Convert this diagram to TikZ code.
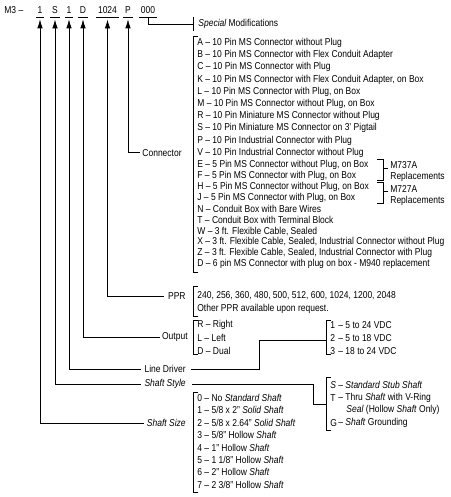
\documentclass[tikz,border=0pt]{standalone}
\usepackage{fontspec}
\setmainfont{Liberation Sans}[FakeStretch=0.85]
\usetikzlibrary{arrows.meta}
\newcommand\mybrk[3]{\draw (#1+5,#2) -- (#1,#2) -- (#1,#3) -- (#1+5,#3);}
\begin{document}
\begin{tikzpicture}[x=1pt,y=-1pt,line width=0.75pt,
  every node/.style={inner sep=0pt,font=\fontsize{10}{12}\selectfont},
  item/.style={anchor=west},
  lbl/.style={anchor=east},
  code/.style={anchor=base,inner xsep=1.5pt},
  arr/.style={-{Latex[length=9pt,width=5.5pt]}}]
\useasboundingbox[fill=white] (0,0) rectangle (450,497);
% top code
\node[anchor=base west] (m3) at (4,14) {M3 --};
\node[code] (c1) at (40,14) {1};
\node[code] (c2) at (55,14) {S};
\node[code] (c3) at (69,14) {1};
\node[code] (c4) at (83,14) {D};
\node[code] (c5) at (107.5,14) {1024};
\node[code] (c6) at (128,14) {P};
\node[code] (c7) at (148,14) {000};
\foreach \c in {c1,c2,c3,c4,c5,c6,c7}
  \draw ([yshift=-3pt]\c.south west) -- ([yshift=-3pt]\c.south east);
% special modifications
\coordinate (specbr) at (193,24);
\node[item] (spec) at (198,24) {\itshape Special\upshape\ Modifications};
\draw ([yshift=-3pt]c7.south) |- (specbr);
\draw (193,17) -- (193,31);
% connector list
\foreach \t [count=\i from 0] in {{A -- 10 Pin MS Connector without Plug},
  {B -- 10 Pin MS Connector with Flex Conduit Adapter},
  {C -- 10 Pin MS Connector with Plug},
  {K -- 10 Pin MS Connector with Flex Conduit Adapter, on Box},
  {L -- 10 Pin MS Connector with Plug, on Box},
  {M -- 10 Pin MS Connector without Plug, on Box},
  {R -- 10 Pin Miniature MS Connector without Plug},
  {S -- 10 Pin Miniature MS Connector on 3' Pigtail},
  {P -- 10 Pin Industrial Connector with Plug},
  {V -- 10 Pin Industrial Connector without Plug}}
  \node[item] (ca\i) at (197,43+\i*12.2) {\t};
\foreach \t [count=\i from 0] in {{E -- 5 Pin MS Connector without Plug, on Box},
  {F -- 5 Pin MS Connector with Plug, on Box},
  {H -- 5 Pin MS Connector without Plug, on Box},
  {J -- 5 Pin MS Connector with Plug, on Box},
  {N -- Conduit Box with Bare Wires},
  {T -- Conduit Box with Terminal Block},
  {W -- 3 ft. Flexible Cable, Sealed},
  {X -- 3 ft. Flexible Cable, Sealed, Industrial Connector without Plug},
  {Z -- 3 ft. Flexible Cable, Sealed, Industrial Connector with Plug},
  {D -- 6 pin MS Connector with plug on box - M940 replacement}}
  \node[item] (cb\i) at (197,164.5+\i*11.1) {\t};
\mybrk{193}{36}{272}
\node[lbl] (conn) at (182,152.8) {Connector};
\draw[arr] ([xshift=-2pt]conn.west) -| ([yshift=-5pt]c6.south);
% replacements
\draw (377,159) -- (383,159) -- (383,180) -- (377,180);
\draw (383,168) -- (388,168);
\node[item] (r1a) at (390,165.5) {M737A};
\node[item] (r1b) at (390,177) {Replacements};
\draw (377,182.5) -- (383,182.5) -- (383,203.5) -- (377,203.5);
\draw (383,191.5) -- (388,191.5);
\node[item] (r2a) at (390,189) {M727A};
\node[item] (r2b) at (390,200.5) {Replacements};
% PPR
\node[lbl] (ppr) at (186,296) {PPR};
\draw[arr] ([xshift=-4pt]ppr.west) -| ([yshift=-5pt]c5.south);
\mybrk{193}{286}{316}
\node[item] (ppr1) at (197,296) {240, 256, 360, 480, 500, 512, 600, 1024, 1200, 2048};
\node[item] (ppr2) at (197,309) {Other PPR available upon request.};
% Output
\node[lbl] (out) at (188,337.5) {Output};
\draw[arr] ([xshift=-2pt]out.west) -| ([yshift=-5pt]c4.south);
\mybrk{193}{320}{354}
\node[item] (o1) at (197,325) {R -- Right};
\node[item] (o2) at (197,338) {L -- Left};
\node[item] (o3) at (197,351) {D -- Dual};
% Line driver
\node[lbl] (ld) at (186,369) {Line Driver};
\draw[arr] ([xshift=-3pt]ld.west) -| ([yshift=-5pt]c3.south);
\coordinate (ldturn) at (259,340);
\coordinate (vmid) at (326,340);
\draw ([xshift=5pt]ld.east) -| (ldturn) -- (vmid);
\mybrk{326}{320}{354}
\node[item] (v1n) at (330,325) {1};
\node[item] (v1) at (338,325) {-- 5 to 24 VDC};
\node[item] (v2n) at (330,338) {2};
\node[item] (v2) at (338,338) {-- 5 to 18 VDC};
\node[item] (v3n) at (330,351) {3};
\node[item] (v3) at (338,351) {-- 18 to 24 VDC};
% Shaft style
\node[lbl] (sst) at (186,384) {\itshape Shaft Style};
\draw[arr] ([xshift=-3pt]sst.west) -| ([yshift=-5pt]c2.south);
\coordinate (sturn) at (313,404);
\coordinate (smid) at (326,404);
\draw ([xshift=6pt]sst.east) -| (sturn) -- (smid);
\mybrk{326}{377}{430}
\node[item] (ss1n) at (330,385) {\itshape S};
\node[item] (ss1) at (338,385) {-- \textit{Standard Stub Shaft}};
\node[item] (ss2n) at (330,398) {T};
\node[item] (ss2) at (338,398) {-- Thru \textit{Shaft} with V-Ring};
\node[item] (ss2b) at (346,410) {\textit{Seal} (Hollow \textit{Shaft} Only)};
\node[item] (ss3n) at (330,423) {G};
\node[item] (ss3) at (338,423) {-- \textit{Shaft} Grounding};
% Shaft size
\node[lbl] (ssz) at (186,423) {\itshape Shaft Size};
\draw[arr] ([xshift=-3pt]ssz.west) -| ([yshift=-5pt]c1.south);
\mybrk{193}{392}{492}
\foreach \t [count=\i from 0] in {{0 -- No \textit{Standard Shaft}},
  {1 -- 5/8 x 2" \textit{Solid Shaft}},
  {2 -- 5/8 x 2.64" \textit{Solid Shaft}},
  {3 -- 5/8" Hollow \textit{Shaft}},
  {4 -- 1" Hollow \textit{Shaft}},
  {5 -- 1 1/8" Hollow \textit{Shaft}},
  {6 -- 2" Hollow \textit{Shaft}},
  {7 -- 2 3/8" Hollow \textit{Shaft}}}
  \node[item] (sz\i) at (197,398+\i*12.4) {\t};
\end{tikzpicture}
\end{document}
